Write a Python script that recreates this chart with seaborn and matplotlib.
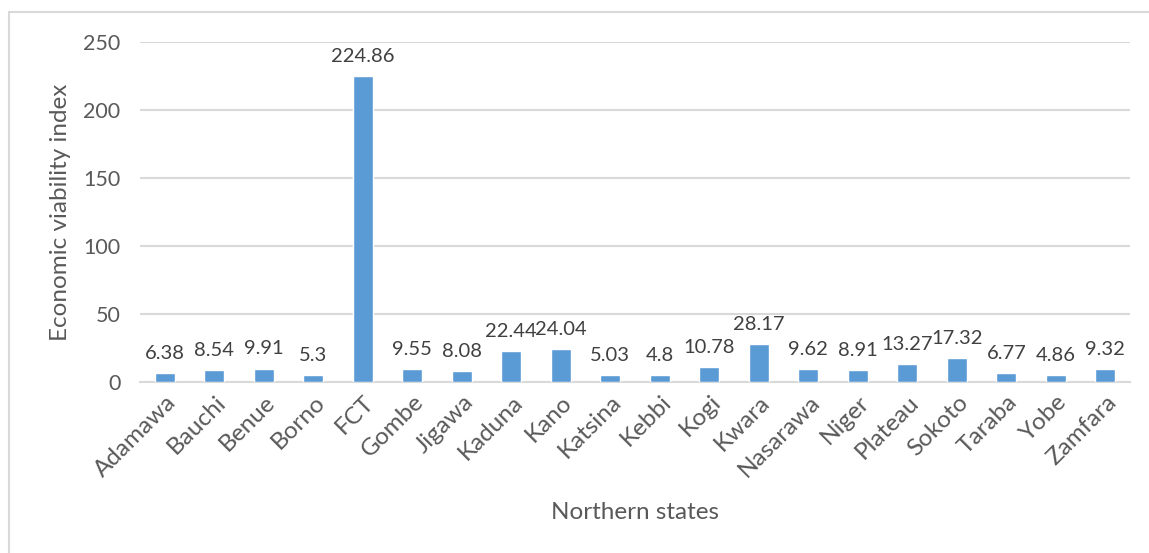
import matplotlib
matplotlib.use("Agg")
import matplotlib.pyplot as plt
import matplotlib.transforms as mtransforms
import seaborn as sns
import pandas as pd
from matplotlib.patches import Rectangle

states = ["Adamawa", "Bauchi", "Benue", "Borno", "FCT", "Gombe", "Jigawa",
          "Kaduna", "Kano", "Katsina", "Kebbi", "Kogi", "Kwara", "Nasarawa",
          "Niger", "Plateau", "Sokoto", "Taraba", "Yobe", "Zamfara"]
index_values = [6.38, 8.54, 9.91, 5.3, 224.86, 9.55, 8.08, 22.44, 24.04, 5.03,
                4.8, 10.78, 28.17, 9.62, 8.91, 13.27, 17.32, 6.77, 4.86, 9.32]
y_ticks = [0, 50, 100, 150, 200, 250]

sns.set_style("white")
plt.rcParams["font.family"] = ["Lato", "DejaVu Sans"]

text_color = "#595959"
grid_color = "#D9D9D9"
bar_color = "#5B9BD5"

df = pd.DataFrame({"state": states, "value": index_values})

fig = plt.figure(figsize=(11.49, 5.53), dpi=100)
ax = fig.add_axes([0.1218, 0.3092, 0.8617, 0.6148])

sns.barplot(data=df, x="state", y="value", color=bar_color, width=0.4,
            saturation=1, ax=ax, zorder=3)

ax.set_ylim(0, 250)
ax.set_yticks(y_ticks)
ax.set_xlim(-0.5, len(states) - 0.5)
ax.yaxis.grid(True, color=grid_color, linewidth=1.5, zorder=0)
ax.xaxis.grid(False)
for side in ["top", "right", "left"]:
    ax.spines[side].set_visible(False)
ax.spines["bottom"].set_color(grid_color)
ax.spines["bottom"].set_linewidth(1.5)
ax.tick_params(axis="both", length=0, colors=text_color)
ax.tick_params(axis="y", labelsize=15.5, pad=14)
ax.tick_params(axis="x", labelsize=17.5, pad=12)

# slanted category names, nudged so each ends just right of its bar
shift = mtransforms.ScaledTranslation(8 / 100, 0, fig.dpi_scale_trans)
for lbl in ax.get_xticklabels():
    lbl.set_rotation(45)
    lbl.set_ha("right")
    lbl.set_va("center")
    lbl.set_rotation_mode("anchor")
    lbl.set_transform(lbl.get_transform() + shift)

ax.bar_label(ax.containers[0], labels=[f"{v:g}" for v in index_values],
             padding=8, fontsize=14.5, color="#404040")

ax.set_xlabel("Northern states", fontsize=17.5, color=text_color)
ax.set_ylabel("Economic viability index", fontsize=17.5, color=text_color)
ax.xaxis.label.set_va("center")
ax.xaxis.set_label_coords(0.4996, -0.385, transform=ax.transAxes)
ax.yaxis.set_label_coords(71 / 1149, 0.6165, transform=fig.transFigure)

# chart area frame
fig.patches.append(Rectangle((9 / 1149, -0.1), 1.2, 1 - 12 / 553 + 0.1,
                             transform=fig.transFigure, fill=False,
                             edgecolor="#D9D9D9", linewidth=1.5))

fig.savefig("out.png", dpi=100, facecolor="white")
